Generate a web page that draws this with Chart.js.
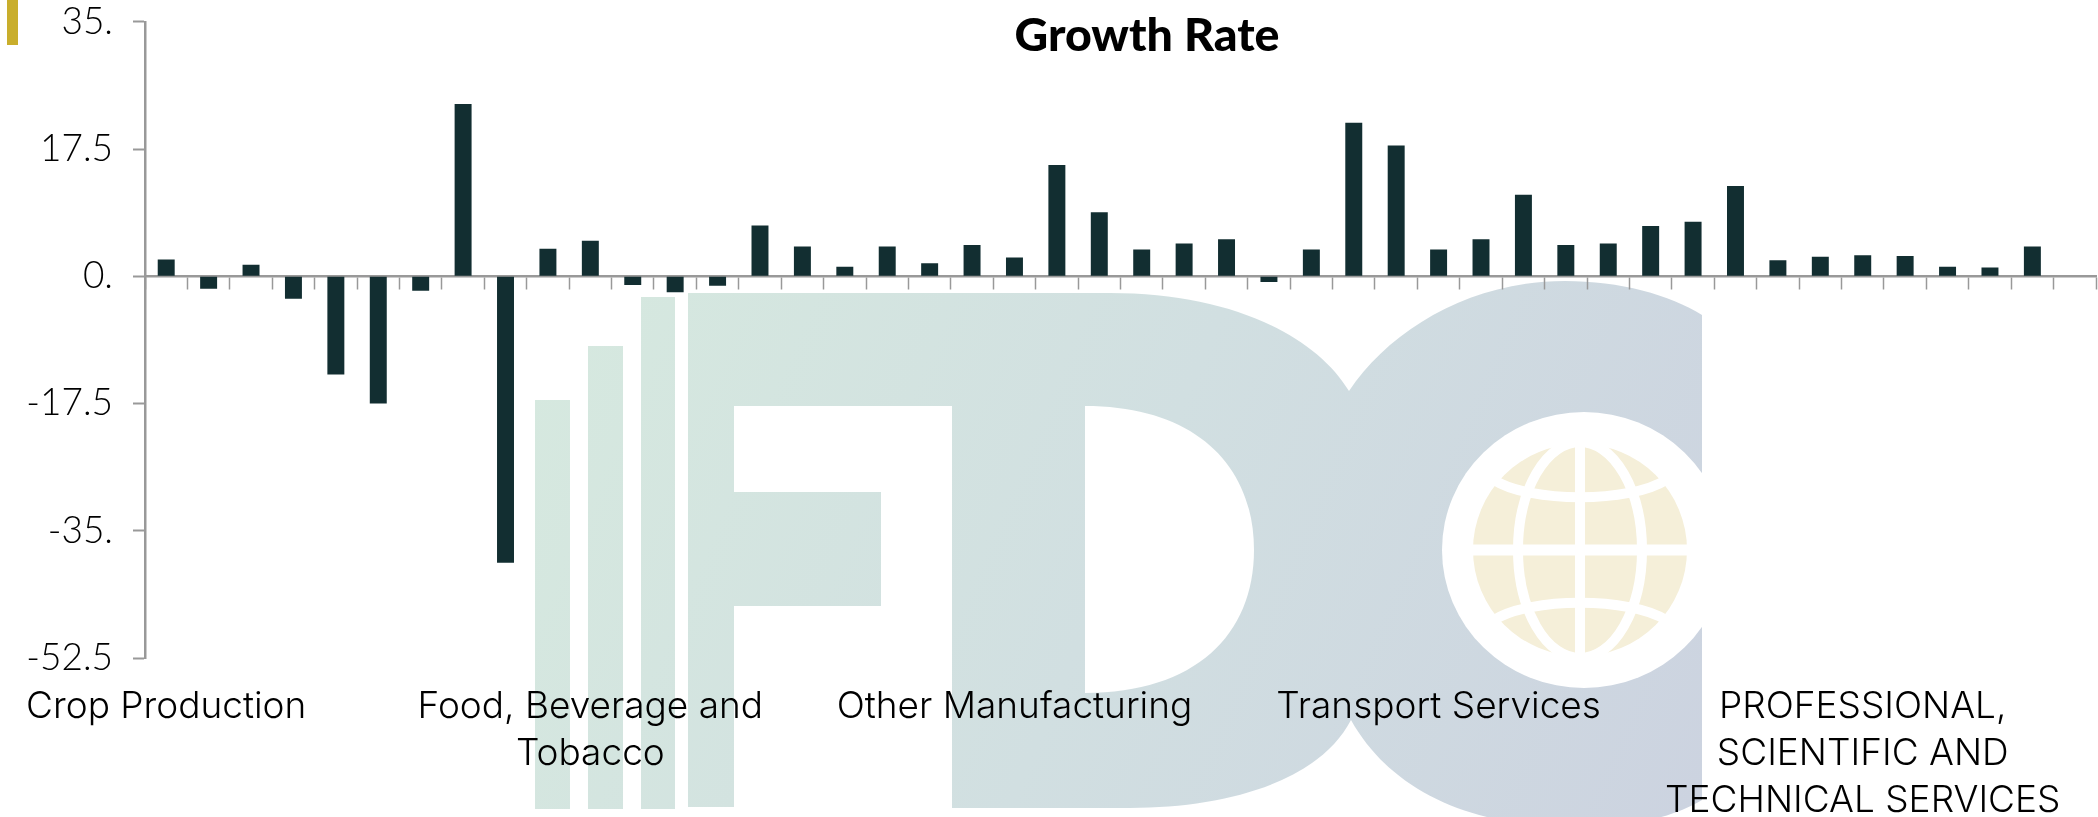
<!DOCTYPE html>
<html lang="en">

<head>
    <meta charset="UTF-8">
    <script src="https://cdn.jsdelivr.net/npm/chart.js"></script>
    <title>Growth Rate</title>
    <style>
        html, body { margin: 0; padding: 0; background: #fff; overflow: hidden; }
        .wrap { position: relative; width: 2098px; height: 817px; }
        .marca { position: absolute; left: 0; top: 0; }
        .gold { position: absolute; left: 7px; top: 0; width: 11px; height: 45px; background: #c9ae2c; }
        canvas { position: absolute; left: 0; top: 0; }
    </style>
</head>

<body>
    <div class="wrap">
        <svg class="marca" width="2098" height="817" viewBox="0 0 2098 817">
            <defs>
                <linearGradient id="fdc" gradientUnits="userSpaceOnUse" x1="535" y1="300" x2="1702" y2="800">
                    <stop offset="0" stop-color="#d6e9df" />
                    <stop offset="0.5" stop-color="#d1dfe1" />
                    <stop offset="1" stop-color="#ccd3e0" />
                </linearGradient>
            </defs>
            <rect x="535" y="400" width="35" height="409" fill="url(#fdc)" />
            <rect x="588" y="346" width="35" height="463" fill="url(#fdc)" />
            <rect x="641" y="297" width="34" height="512" fill="url(#fdc)" />
            <path fill="url(#fdc)" fill-rule="evenodd" d="M688 293 L1110 293 C1230 293 1315 335 1349 391
                C1390 330 1470 281 1565 281 C1620 281 1670 295 1702 315 L1702 800 C1670 818 1640 826 1565 826
                C1470 826 1390 790 1351 720 C1320 780 1230 808 1130 808 L952 808 L952 406 L734 406 L734 492
                L881 492 L881 606 L734 606 L734 807 L688 807 Z
                M1085 406 C1195 406 1254 465 1254 550 C1254 635 1195 693 1085 693 Z" />
            <ellipse cx="1584" cy="550" rx="142" ry="138" fill="#fff" />
            <ellipse cx="1580" cy="550" rx="107" ry="106" fill="#f5efd9" />
            <g fill="none" stroke="#fff" stroke-width="10">
                <path d="M1580 440 L1580 660" />
                <path d="M1470 550 L1690 550" stroke-width="11" />
                <ellipse cx="1580" cy="550" rx="62" ry="108" />
                <path d="M1494 480 C1530 503 1630 503 1666 480" />
                <path d="M1494 620 C1530 597 1630 597 1666 620" />
            </g>
        </svg>
        <div class="gold"></div>
        <canvas id="grafico" width="2098" height="817"></canvas>
    </div>
</body>

</html>
<script>
    const titulo = 'Growth Rate';
    const categorias = [
        'Crop Production', '', '', '', '', '', '', '', '', '',
        ['Food, Beverage and', 'Tobacco'], '', '', '', '', '', '', '', '', '',
        'Other Manufacturing', '', '', '', '', '', '', '', '', '',
        'Transport Services', '', '', '', '', '', '', '', '', '',
        ['PROFESSIONAL,', 'SCIENTIFIC AND', 'TECHNICAL SERVICES'], '', '', '', '', ''
    ];
    const crescimento = [
        2.3, -1.7, 1.6, -3.1, -13.5, -17.5, -2.0, 23.7, -39.4, 3.8,
        4.9, -1.2, -2.2, -1.3, 7.0, 4.1, 1.3, 4.1, 1.8, 4.3,
        2.6, 15.3, 8.8, 3.7, 4.5, 5.1, -0.8, 3.7, 21.1, 18.0,
        3.7, 5.1, 11.2, 4.3, 4.5, 6.9, 7.5, 12.4, 2.2, 2.7,
        2.9, 2.8, 1.3, 1.2, 4.1, null
    ];
    const rotulosY = ['-52.5', '-35.', '-17.5', '0.', '17.5', '35.'];

    const cinza = '#999999';

    // the title sits over the bars' centre in the original, not the page's
    const moverTitulo = {
        id: 'moverTitulo',
        afterLayout(chart) {
            chart.titleBlock.left += 198;
        }
    };

    new Chart(document.getElementById('grafico'), {
        type: 'bar',
        plugins: [moverTitulo],
        data: {
            labels: categorias,
            datasets: [{
                label: 'Growth Rate',
                data: crescimento,
                backgroundColor: '#122e31',
                categoryPercentage: 1,
                barPercentage: 0.4
            }]
        },
        options: {
            responsive: false,
            animation: false,
            layout: { padding: { left: 0, right: 2, top: 0, bottom: 0 } },
            plugins: {
                legend: { display: false },
                tooltip: { enabled: false },
                title: {
                    display: true,
                    text: titulo,
                    color: '#000',
                    font: { family: 'Lato, sans-serif', size: 46.5, weight: '900', lineHeight: 1.2 },
                    padding: { top: 8, bottom: -42 }
                }
            },
            scales: {
                x: {
                    position: { y: 0 },
                    offset: true,
                    grid: { drawOnChartArea: false, color: cinza, tickLength: 12, tickWidth: 1.5, offset: true },
                    border: { color: cinza, width: 2.5 },
                    ticks: { display: false, autoSkip: false },
                    afterFit(scale) { scale.height = 0; }
                },
                rotulos: {
                    axis: 'x',
                    type: 'category',
                    labels: categorias,
                    position: 'bottom',
                    offset: true,
                    grid: { display: false },
                    border: { display: false },
                    ticks: {
                        autoSkip: false,
                        maxRotation: 0,
                        minRotation: 0,
                        padding: 18,
                        color: '#000',
                        font: { family: 'Inter, sans-serif', size: 37, weight: '300', lineHeight: 1.26 }
                    },
                    afterFit(scale) { scale.height = 159; }
                },
                y: {
                    min: -52.5,
                    max: 35,
                    afterBuildTicks(scale) {
                        scale.ticks = rotulosY.map((r, i) => ({ value: -52.5 + i * 17.5 }));
                    },
                    grid: { drawOnChartArea: false, color: cinza, tickLength: 12, tickWidth: 2 },
                    border: { color: cinza, width: 2.5 },
                    ticks: {
                        padding: 20,
                        color: '#000',
                        font: { family: 'Lato, sans-serif', size: 37, weight: '300' },
                        callback: (v, i) => rotulosY[i]
                    },
                    afterFit(scale) {
                        scale.width = 145;
                        scale.paddingTop = 0;
                        scale.paddingBottom = 0;
                    }
                }
            }
        }
    });
</script>
